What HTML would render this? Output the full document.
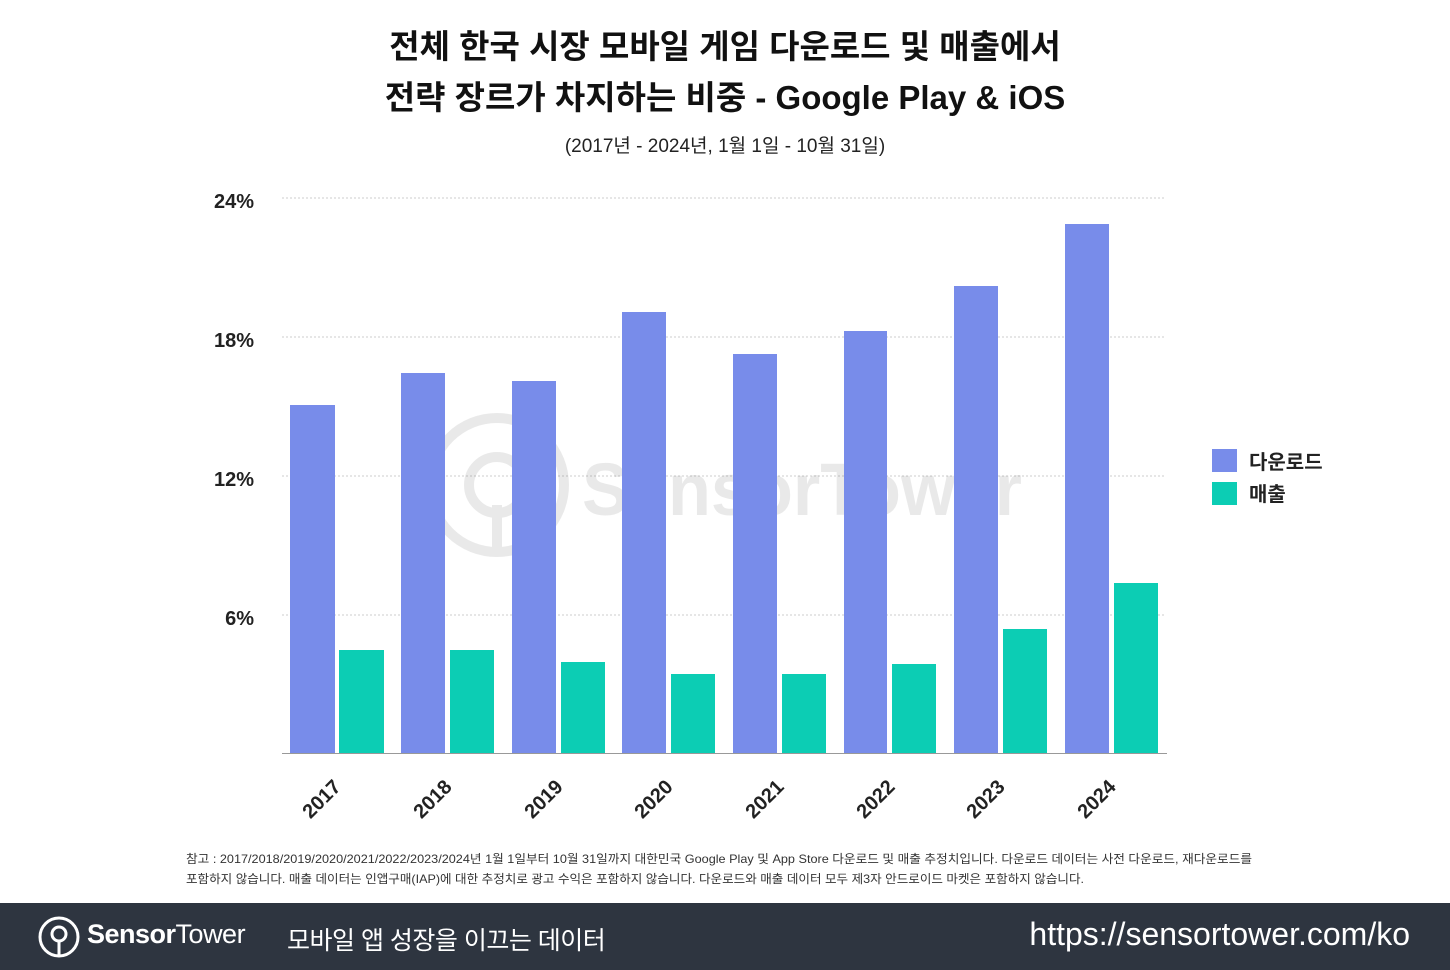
<!DOCTYPE html>
<html><head><meta charset="utf-8"><style>
body{margin:0;width:1450px;height:970px;background:#fff;position:relative;overflow:hidden;font-family:"Liberation Sans","Noto Sans CJK KR",sans-serif}
.t{position:absolute;left:0;width:1450px;text-align:center;color:#111;font-weight:bold;font-size:33px}
.foot{position:absolute;left:0;top:903px;width:1450px;height:67px;background:#2e3540;color:#fff}
</style></head><body>
<div class="t" style="top:20px">전체 한국 시장 모바일 게임 다운로드 및 매출에서</div>
<div class="t" style="top:71px">전략 장르가 차지하는 비중 - Google Play &amp; iOS</div>
<div style="position:absolute;top:131px;left:0;width:1450px;text-align:center;font-size:19px;color:#222">(2017년 - 2024년, 1월 1일 - 10월 31일)</div>
<svg width="1450" height="970" style="position:absolute;left:0;top:0" font-family="Liberation Sans, Noto Sans CJK KR, sans-serif">
<g stroke="#ccc" stroke-dasharray="2,2">
<line x1="282" x2="1166" y1="198" y2="198"/><line x1="282" x2="1166" y1="337" y2="337"/><line x1="282" x2="1166" y1="476" y2="476"/><line x1="282" x2="1166" y1="615" y2="615"/>
</g>
<g font-size="20" font-weight="bold" fill="#222" text-anchor="end">
<text x="254" y="208">24%</text><text x="254" y="347">18%</text><text x="254" y="486">12%</text><text x="254" y="625">6%</text>
</g>
<g opacity="0.12" fill="none" stroke="#555" stroke-width="10"><circle cx="497" cy="485" r="67"/><circle cx="497" cy="485" r="28"/><line x1="497" y1="505" x2="497" y2="550"/></g>
<text x="582" y="515" font-size="74" font-weight="bold" fill="#555" opacity="0.12" textLength="440" lengthAdjust="spacingAndGlyphs">SensorTower</text>
<g fill="#788cea">
<rect x="290" y="405" width="45" height="348"/><rect x="401" y="373" width="44" height="380"/><rect x="512" y="381" width="44" height="372"/><rect x="622" y="312" width="44" height="441"/><rect x="733" y="354" width="44" height="399"/><rect x="844" y="331" width="43" height="422"/><rect x="954" y="286" width="44" height="467"/><rect x="1065" y="224" width="44" height="529"/>
</g>
<g fill="#0ccdb4">
<rect x="339" y="650" width="45" height="103"/><rect x="450" y="650" width="44" height="103"/><rect x="561" y="662" width="44" height="91"/><rect x="671" y="674" width="44" height="79"/><rect x="782" y="674" width="44" height="79"/><rect x="892" y="664" width="44" height="89"/><rect x="1003" y="629" width="44" height="124"/><rect x="1114" y="583" width="44" height="170"/>
</g>
<line x1="282" x2="1167" y1="753.5" y2="753.5" stroke="#999"/>
<g font-size="20" font-weight="bold" fill="#222" text-anchor="end">
<text transform="translate(342,788) rotate(-45)">2017</text><text transform="translate(453,788) rotate(-45)">2018</text><text transform="translate(564,788) rotate(-45)">2019</text><text transform="translate(674,788) rotate(-45)">2020</text><text transform="translate(785,788) rotate(-45)">2021</text><text transform="translate(896,788) rotate(-45)">2022</text><text transform="translate(1006,788) rotate(-45)">2023</text><text transform="translate(1117,788) rotate(-45)">2024</text>
</g>
<rect x="1212" y="449" width="25" height="23" fill="#788cea"/><rect x="1212" y="482" width="25" height="23" fill="#0ccdb4"/>
<g font-size="20" font-weight="bold" fill="#222"><text x="1249" y="469">다운로드</text><text x="1249" y="501">매출</text></g>
<g font-size="12" fill="#333"><text x="186" y="863" textLength="1066" lengthAdjust="spacingAndGlyphs">참고 : 2017/2018/2019/2020/2021/2022/2023/2024년 1월 1일부터 10월 31일까지 대한민국 Google Play 및 App Store 다운로드 및 매출 추정치입니다. 다운로드 데이터는 사전 다운로드, 재다운로드를</text>
<text x="186" y="883" textLength="898" lengthAdjust="spacingAndGlyphs">포함하지 않습니다. 매출 데이터는 인앱구매(IAP)에 대한 추정치로 광고 수익은 포함하지 않습니다. 다운로드와 매출 데이터 모두 제3자 안드로이드 마켓은 포함하지 않습니다.</text></g>
</svg>
<div class="foot">
<svg width="50" height="50" style="position:absolute;left:37px;top:9px"><g fill="none" stroke="#fff" stroke-width="3"><circle cx="22" cy="25" r="19"/><circle cx="22" cy="22" r="7"/><line x1="22" y1="29" x2="22" y2="43"/></g></svg>
<div style="position:absolute;left:87px;top:16px;font-size:27px;letter-spacing:-0.5px"><b>Sensor</b>Tower</div>
<div style="position:absolute;left:287px;top:18px;font-size:25px;letter-spacing:-0.5px">모바일 앱 성장을 이끄는 데이터</div>
<div style="position:absolute;right:40px;top:13px;font-size:32px">https://sensortower.com/ko</div>
</div>
</body></html>
